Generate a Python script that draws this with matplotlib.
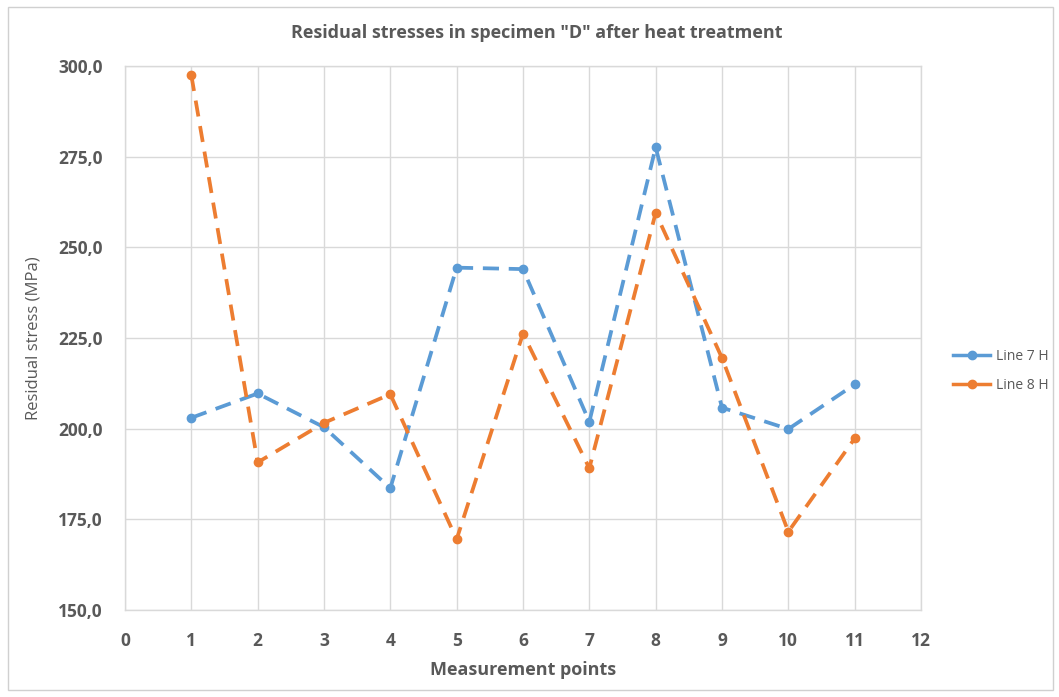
import matplotlib
matplotlib.use("Agg")
import matplotlib.pyplot as plt
from matplotlib.patches import Rectangle

# Values
points = [1, 2, 3, 4, 5, 6, 7, 8, 9, 10, 11]
line_7h = [203.0, 209.7, 200.4, 183.6, 244.4, 244.0, 201.9, 277.6, 205.8, 199.9, 212.2]
line_8h = [297.5, 190.7, 201.6, 209.5, 169.5, 226.2, 189.1, 259.5, 219.5, 171.6, 197.3]
series_names = ["Line 7 H", "Line 8 H"]
x_ticks = list(range(0, 13))
y_ticks = [150, 175, 200, 225, 250, 275, 300]

BLUE = "#5B9BD5"
ORANGE = "#ED7D31"
TEXT = "#595959"
GRID = "#D9D9D9"

plt.rcParams["font.family"] = ["Open Sans", "DejaVu Sans"]

fig = plt.figure(figsize=(10.59, 6.97), dpi=100)
ax = fig.add_axes([0.118, 0.1248, 0.7517, 0.7805])

# outer chart border
fig.patches.append(Rectangle((0.0075, 0.01), 0.987, 0.98, transform=fig.transFigure,
                             fill=False, edgecolor="#D0D0D0", linewidth=1.0))

for vals, color, name in zip([line_7h, line_8h], [BLUE, ORANGE], series_names):
    ax.plot(points, vals, color=color, linestyle=(0, (4.3, 2.6)), linewidth=2.7,
            marker="o", markersize=6, label=name, dash_capstyle="butt")

ax.set_xlim(0, 12)
ax.set_ylim(150, 300)
ax.set_xticks(x_ticks)
ax.set_yticks(y_ticks)
ax.set_yticklabels([f"{v:.1f}".replace(".", ",") for v in y_ticks])
ax.grid(True, color=GRID, linewidth=1.0)
ax.set_axisbelow(True)
for side in ["top", "right", "left", "bottom"]:
    ax.spines[side].set_color(GRID)
    ax.spines[side].set_linewidth(1.0)
ax.tick_params(axis="both", length=0, colors=TEXT, labelsize=12.5, pad=16)
for lbl in ax.get_xticklabels() + ax.get_yticklabels():
    lbl.set_fontweight("bold")

ax.set_xlabel("Measurement points", fontsize=13, fontweight="bold", color=TEXT, labelpad=8)
ax.set_ylabel("Residual stress (MPa)", fontsize=12, color=TEXT, labelpad=12)
fig.text(0.507, 0.953, 'Residual stresses in specimen "D" after heat treatment',
         ha="center", va="center", fontsize=13, fontweight="bold", color=TEXT)

leg = ax.legend(loc="center left", bbox_to_anchor=(1.04, 0.44), frameon=False,
                fontsize=10, handlelength=2.7, labelspacing=1.0, handletextpad=0.4,
                borderpad=0, borderaxespad=0)
for t in leg.get_texts():
    t.set_color(TEXT)
for h in leg.get_lines():
    h.set_linestyle("-")
    h.set_linewidth(2.5)

fig.savefig("out.png", dpi=100)
